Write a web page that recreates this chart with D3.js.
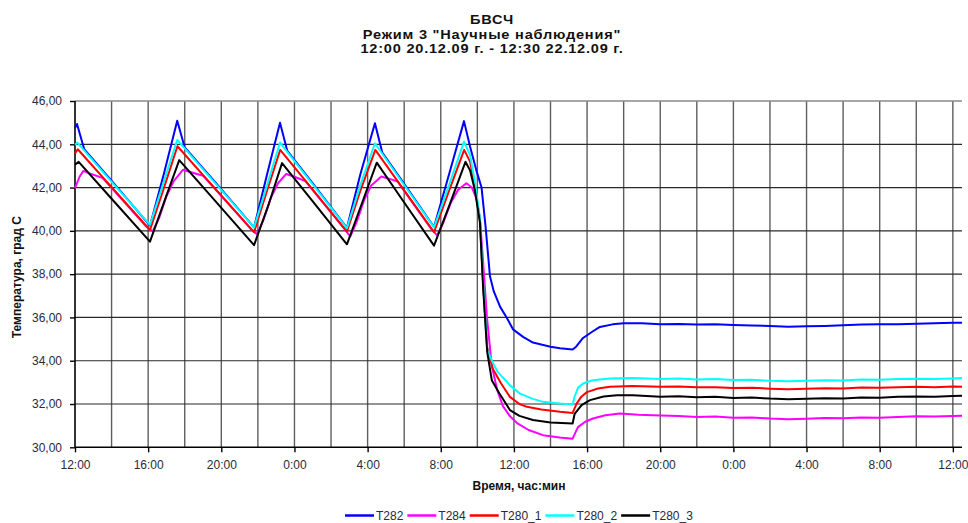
<!DOCTYPE html>
<html><head><meta charset="utf-8">
<script src="https://cdn.jsdelivr.net/npm/d3@7"></script>
<style>
html,body{margin:0;padding:0;background:#fff;}
svg{display:block;font-family:"Liberation Sans",Arial,sans-serif;}
</style></head>
<body>
<svg id="chart" width="968" height="523"></svg>
<script>
// ---- data (hours since 12:00 20.12.09, temperature °C) ----
const titleLines = ["БВСЧ", "Режим 3 \"Научные наблюдения\"", "12:00 20.12.09 г. - 12:30 22.12.09 г."];
const yTitle = "Температура, град С";
const xTitle = "Время, час:мин";
const yTicks = [30, 32, 34, 36, 38, 40, 42, 44, 46];
const xTickHours = [0, 4, 8, 12, 16, 20, 24, 28, 32, 36, 40, 44, 48];
const xTickLabels = ["12:00","16:00","20:00","0:00","4:00","8:00","12:00","16:00","20:00","0:00","4:00","8:00","12:00"];
const seriesNames = ["T282", "T284", "T280_1", "T280_2", "T280_3"];
const seriesColors = ["#0000ff", "#ff00ff", "#ff0000", "#00ffff", "#000000"];

const T282 = [[0,44.75],[0.11,44.94],[0.5,43.78],[2.1,42.22],[4.1,40.24],
 [4.85,42.6],[5.59,45.09],[6.0,43.85],[7.7,42.22],[9.79,40.16],
 [10.5,42.6],[11.21,45.0],[11.6,43.71],[13.0,42.2],[14.87,40.14],
 [15.6,42.6],[16.4,44.97],[16.8,43.62],[18.0,42.17],[19.63,40.18],
 [20.45,42.6],[21.27,45.07],[21.6,43.9],[21.96,42.75],[22.23,42.0],[22.45,40.2],[22.69,37.9],[22.9,37.2],
 [23.24,36.5],[23.6,36.0],[23.95,35.45],[24.5,35.1],[25.04,34.84],[26.0,34.65],[26.52,34.58],[27.21,34.52],
 [27.4,34.65],[27.78,35.05],[28.3,35.35],[28.7,35.56],[29.4,35.68],[30,35.73],[31,35.73],[32,35.69],
 [33,35.7],[34,35.67],[35,35.68],[36,35.65],[37,35.63],[38,35.61],[39,35.57],[40,35.59],[41,35.61],
 [42,35.64],[43,35.67],[44,35.69],[45,35.68],[46,35.71],[47,35.73],[48,35.76],[48.5,35.75]];

const T284 = [[0,41.97],[0.25,42.5],[0.45,42.77],[0.8,42.65],[1.5,42.45],[2.1,41.9],[3.9,40.2],[4.25,39.97],
 [4.6,40.6],[5.0,41.6],[5.4,42.3],[5.9,42.82],[6.3,42.72],[7.0,42.55],[7.7,41.9],[9.6,40.1],[9.95,39.84],
 [10.3,40.5],[10.7,41.5],[11.1,42.2],[11.55,42.63],[12.0,42.5],[12.6,42.3],[13.0,41.88],[14.7,40.13],[15.05,39.74],
 [15.4,40.4],[15.8,41.4],[16.2,42.1],[16.75,42.51],[17.2,42.4],[17.64,42.28],[18.0,41.85],[19.45,40.12],[19.8,39.79],
 [20.15,40.4],[20.55,41.3],[20.95,41.9],[21.4,42.2],[21.7,42.0],[21.95,41.5],[22.14,40.6],[22.32,38.5],[22.52,36.05],
 [22.79,33.75],[23.1,32.6],[23.4,31.9],[23.8,31.42],[24.17,31.12],[24.8,30.8],[25.59,30.56],[26.5,30.45],[27.21,30.4],
 [27.5,30.93],[27.9,31.18],[28.32,31.33],[29.0,31.48],[29.8,31.56],[30.8,31.5],[32,31.47],[33,31.45],[34,31.4],
 [35,31.42],[36,31.37],[37,31.38],[38,31.33],[39,31.3],[40,31.32],[41,31.35],[42,31.34],[43,31.38],[44,31.37],
 [45,31.4],[46,31.43],[47,31.42],[48,31.45],[48.5,31.46]];

const T280_1 = [[0,43.58],[0.15,43.77],[2.1,41.93],[4.1,40.04],
 [4.85,41.95],[5.6,43.91],[7.7,41.92],[9.79,39.94],
 [10.5,41.85],[11.22,43.74],[13.0,41.9],[14.87,39.97],
 [15.6,41.85],[16.42,43.74],[18.0,41.87],[19.63,39.94],
 [20.45,41.85],[21.28,43.74],[21.6,43.2],[21.86,42.1],[22.14,40.5],[22.32,37.5],[22.54,34.6],[22.85,33.62],
 [23.3,32.95],[23.78,32.33],[24.3,32.0],[24.71,31.87],[25.5,31.75],[26.52,31.64],[27.21,31.59],[27.43,32.02],
 [27.7,32.35],[27.99,32.55],[28.6,32.72],[29.25,32.8],[30.5,32.83],[32,32.8],[33,32.81],[34,32.77],[35,32.78],
 [36,32.74],[37,32.75],[38,32.71],[39,32.68],[40,32.7],[41,32.73],[42,32.72],[43,32.76],[44,32.75],[45,32.78],
 [46,32.8],[47,32.78],[48,32.81],[48.5,32.8]];

const T280_2 = [[0,43.98],[0.13,44.08],[2.1,42.17],[4.1,40.28],
 [4.85,42.25],[5.59,44.2],[7.7,42.17],[9.79,40.16],
 [10.5,42.1],[11.21,44.08],[13.0,42.15],[14.87,40.13],
 [15.6,42.1],[16.4,44.05],[18.0,42.12],[19.63,40.16],
 [20.45,42.1],[21.27,44.12],[21.6,43.5],[21.86,42.3],[22.14,40.6],[22.32,37.6],[22.54,34.5],[22.85,33.9],
 [23.1,33.5],[23.4,33.22],[23.8,32.85],[24.33,32.48],[25.0,32.25],[25.59,32.1],[26.5,32.02],[27.21,31.98],
 [27.3,32.3],[27.5,32.75],[27.78,32.95],[28.3,33.1],[29.25,33.18],[30.5,33.2],[32,33.16],[33,33.18],[34,33.13],
 [35,33.15],[36,33.11],[37,33.12],[38,33.07],[39,33.05],[40,33.07],[41,33.1],[42,33.09],[43,33.13],[44,33.12],
 [45,33.15],[46,33.17],[47,33.15],[48,33.18],[48.5,33.2]];

const T280_3 = [[0,43.05],[0.2,43.19],[2.1,41.39],[4.1,39.5],
 [4.9,41.4],[5.7,43.27],[7.7,41.35],[9.79,39.34],
 [10.6,41.25],[11.32,43.13],[13.0,41.36],[14.87,39.38],
 [15.7,41.3],[16.5,43.15],[18.0,41.31],[19.63,39.32],
 [20.5,41.25],[21.35,43.19],[21.6,42.8],[21.86,41.9],[22.14,40.4],[22.32,37.3],[22.54,34.4],[22.79,33.1],
 [23.2,32.5],[23.78,31.72],[24.3,31.45],[25.04,31.26],[26.0,31.15],[27.21,31.1],[27.32,31.55],[27.7,31.95],
 [28.16,32.18],[28.9,32.35],[29.63,32.4],[30.5,32.4],[32,32.34],[33,32.36],[34,32.31],[35,32.33],[36,32.28],
 [37,32.3],[38,32.25],[39,32.22],[40,32.24],[41,32.27],[42,32.25],[43,32.3],[44,32.29],[45,32.33],[46,32.35],
 [47,32.33],[48,32.37],[48.5,32.38]];

const seriesData = [T282, T284, T280_1, T280_2, T280_3];

// ---- layout ----
const svg = d3.select("#chart");
const X0 = 75, X1 = 962, Y0 = 447.3, Y1 = 101;
const x = d3.scaleLinear().domain([0, 48.5]).range([X0, X1]);
const y = d3.scaleLinear().domain([30, 46]).range([Y0, Y1]);
const fmt = d3.formatLocale({decimal: ",", thousands: " ", grouping: [3], currency: ["", ""]}).format(".2f");

// title (three separate lines, slightly widened like the original)
const titleG = svg.append("g").attr("transform", "translate(492,0) scale(1.12,1)");
[24, 38.6, 53.2].forEach((by, i) => titleG.append("text").attr("x", 0).attr("y", by)
  .attr("text-anchor", "middle").attr("font-size", 13).attr("font-weight", "bold")
  .attr("letter-spacing", 0.7).attr("fill", "#111").text(titleLines[i]));

// grid: vertical every 2 hours
const gridHours = d3.range(2, 48.01, 2);
svg.append("g").selectAll("line").data(gridHours).join("line")
  .attr("x1", d => x(d)).attr("x2", d => x(d)).attr("y1", Y1).attr("y2", Y0)
  .attr("stroke", "#5e5e5e").attr("stroke-width", 1.4);
// horizontal grid
svg.append("g").selectAll("line").data(yTicks.filter(v => v > 30)).join("line")
  .attr("x1", X0).attr("x2", X1).attr("y1", d => y(d)).attr("y2", d => y(d))
  .attr("stroke", d => d === 46 ? "#8a8a8a" : "#2a2a2a").attr("stroke-width", d => d === 46 ? 1.5 : 1.2);

// axes
const yAxis = svg.append("g").attr("transform", `translate(${X0},0)`)
  .call(d3.axisLeft(y).tickValues(yTicks).tickFormat(fmt).tickSize(5).tickPadding(8));
const xAxis = svg.append("g").attr("transform", `translate(0,${Y0})`)
  .call(d3.axisBottom(x).tickValues(xTickHours).tickFormat((d, i) => xTickLabels[i]).tickSize(5).tickPadding(8));
[yAxis, xAxis].forEach(g => {
  g.select(".domain").attr("stroke", "#000").attr("stroke-width", 1.6);
  g.selectAll(".tick line").attr("stroke", "#000").attr("stroke-width", 1.4);
  g.selectAll(".tick text").attr("font-size", 12).attr("fill", "#2a2a3a")
    .attr("font-family", "'Liberation Sans', Arial, sans-serif");
});
xAxis.select(".domain").attr("d", `M${X0},0H${X1}`);
yAxis.select(".domain").attr("d", `M0,${Y0}V${Y1}`);

// axis titles
svg.append("text").attr("transform", `translate(21,${(Y0 + Y1) / 2 + 3}) rotate(-90)`)
  .attr("text-anchor", "middle").attr("font-size", 12).attr("font-weight", "bold").attr("fill", "#111")
  .text(yTitle);
svg.append("text").attr("x", 519).attr("y", 490).attr("text-anchor", "middle")
  .attr("font-size", 12).attr("font-weight", "bold").attr("fill", "#111").text(xTitle);

// series
const line = d3.line().x(d => x(d[0])).y(d => y(d[1]));
svg.append("g").selectAll("path").data(seriesData).join("path")
  .attr("d", line).attr("fill", "none")
  .attr("stroke", (d, i) => seriesColors[i]).attr("stroke-width", 2)
  .attr("stroke-linejoin", "round");

// legend
const leg = svg.append("g");
let lx = 345;
seriesNames.forEach((name, i) => {
  leg.append("line").attr("x1", lx).attr("x2", lx + 29).attr("y1", 515.5).attr("y2", 515.5)
    .attr("stroke", seriesColors[i]).attr("stroke-width", 2.5);
  const t = leg.append("text").attr("x", lx + 31).attr("y", 519.5).attr("font-size", 12)
    .attr("fill", "#2a2a3a").text(name);
  lx += 31 + t.node().getComputedTextLength() + 4;
});
</script>
</body></html>
